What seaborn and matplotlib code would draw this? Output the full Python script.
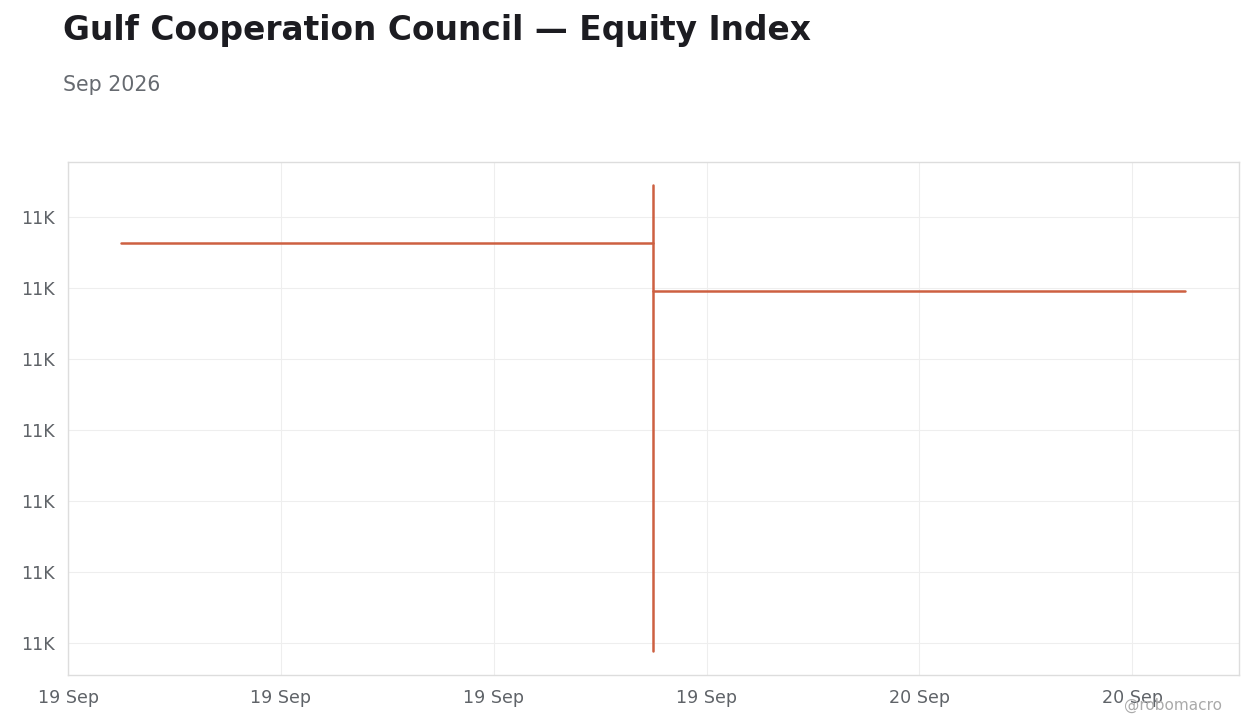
import pandas as pd
import matplotlib
matplotlib.use("Agg")
import matplotlib.pyplot as plt
import matplotlib.dates as mdates
from matplotlib.ticker import MultipleLocator, FuncFormatter
import seaborn as sns

# one daily OHLC bar
dates = pd.to_datetime(["2026-09-19 19:00"])
opens = [11056.3]
highs = [11064.4]
lows = [10998.9]
closes = [11049.6]

TITLE = "Gulf Cooperation Council — Equity Index"
SUBTITLE = "Sep 2026"
LINE_COLOR = "#cd6041"
half = pd.Timedelta(hours=10)

# build segments for the OHLC bar
rows = []
for i, d in enumerate(dates):
    rows += [
        {"seg": f"hl{i}", "t": d, "v": highs[i]},
        {"seg": f"hl{i}", "t": d, "v": lows[i]},
        {"seg": f"o{i}", "t": d - half, "v": opens[i]},
        {"seg": f"o{i}", "t": d, "v": opens[i]},
        {"seg": f"c{i}", "t": d, "v": closes[i]},
        {"seg": f"c{i}", "t": d + half, "v": closes[i]},
    ]
df = pd.DataFrame(rows)

sns.set_style("white")
plt.rcParams["font.family"] = ["DejaVu Sans"]

fig = plt.figure(figsize=(12.6, 7.28), dpi=100)
ax = fig.add_axes([0.054, 0.0728, 0.929, 0.7047])

sns.lineplot(data=df, x="t", y="v", units="seg", estimator=None,
             color=LINE_COLOR, linewidth=1.8, ax=ax, sort=False)

ax.set_xlim(pd.Timestamp("2026-09-19 08:00"), pd.Timestamp("2026-09-20 06:00"))
ax.set_ylim(10995.5, 11067.7)
ax.xaxis.set_major_locator(mdates.HourLocator(byhour=range(0, 24, 4)))
ax.xaxis.set_major_formatter(mdates.DateFormatter("%d %b"))
ax.yaxis.set_major_locator(MultipleLocator(10))
ax.yaxis.set_major_formatter(FuncFormatter(lambda v, p: f"{v/1000:.0f}K"))

ax.set_xlabel("")
ax.set_ylabel("")
ax.grid(True, color="#eeeeee", linewidth=0.8)
for s in ax.spines.values():
    s.set_color("#dddddd")
    s.set_linewidth(1)
ax.tick_params(axis="both", colors="#888888", labelsize=12.6, length=4, width=1,
               labelcolor="#5f6368")
ax.tick_params(axis="x", pad=6)
ax.tick_params(axis="y", pad=5.5)

fig.text(0.05, 0.958, TITLE, fontsize=23.7, fontweight="bold", color="#1c1c21",
         ha="left", va="center")
fig.text(0.05, 0.883, SUBTITLE, fontsize=14.8, color="#666a70", ha="left", va="center")
fig.text(0.97, 0.031, "@robomacro", fontsize=11, color="#aaaaaa", ha="right", va="center")

fig.savefig("out.png", dpi=100)
